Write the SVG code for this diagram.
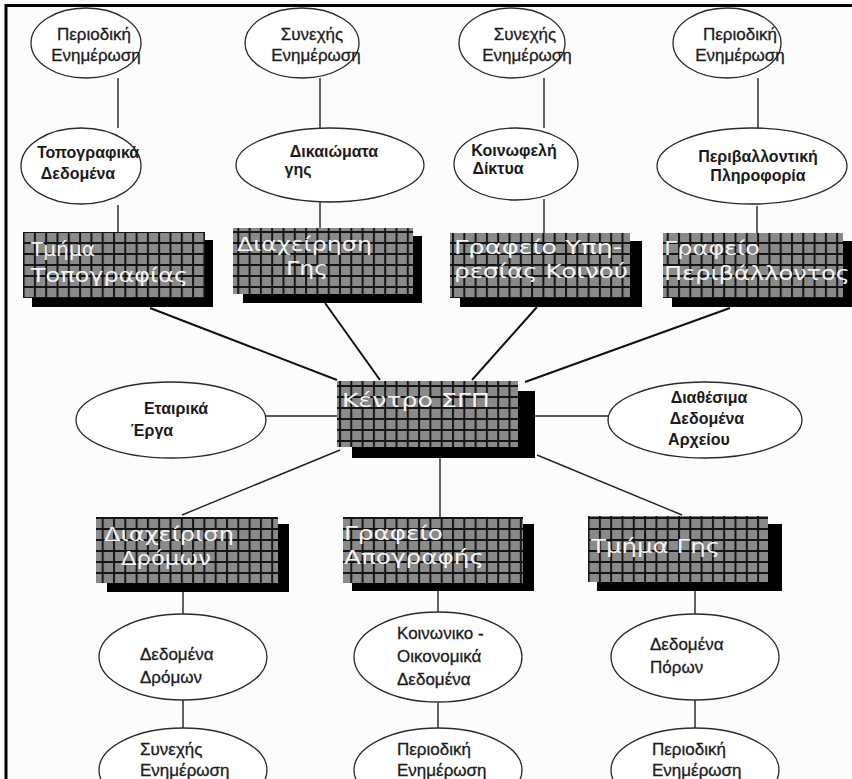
<svg xmlns="http://www.w3.org/2000/svg" width="852" height="779" viewBox="0 0 852 779">
<style>
.bg{fill:#fcfcfc}
.frame{stroke:#000;stroke-width:3;fill:none}
.el{fill:#fff;stroke:#2a2a2a;stroke-width:1.3}
.ln{stroke:#222;stroke-width:1.4;fill:none}
.lnb{stroke:#111;stroke-width:2;fill:none}
.sh{fill:#000}
.bx{fill:url(#grid)}
.t{font-family:"Liberation Sans",Arial,sans-serif;font-size:17px;fill:#1a1a1a;stroke:#1a1a1a;stroke-width:0.3;text-anchor:middle}
.tb{font-family:"Liberation Sans",Arial,sans-serif;font-size:16px;font-weight:bold;fill:#1a1a1a;text-anchor:middle}
.tl{font-family:"Liberation Sans",Arial,sans-serif;font-size:17px;fill:#1a1a1a;stroke:#1a1a1a;stroke-width:0.3}
.w{font-family:"DejaVu Sans","Liberation Sans",sans-serif;font-size:19px;fill:#f4f4f4}
</style>
<defs>
<pattern id="grid" x="0" y="0" width="11.3" height="11" patternUnits="userSpaceOnUse">
<rect width="11.3" height="11" fill="#8a8a8a"/>
<path d="M0 1H11.3M1 0V11" stroke="#151515" stroke-width="2"/>
</pattern>
</defs>
<rect class="bg" x="0" y="0" width="852" height="779"/>
<path class="frame" d="M6 779V5.5H852"/>

<g id="connectors">
<path class="ln" d="M118 78V128M118 205V232"/>
<path class="ln" d="M320 78V128M320 202V228"/>
<path class="ln" d="M544 78V128M544 199V233"/>
<path class="ln" d="M758 78V128M757 206V233"/>
<path class="lnb" d="M150 308L337 380"/>
<path class="lnb" d="M325 303L380 380"/>
<path class="lnb" d="M537 307L472 380"/>
<path class="lnb" d="M730 308L525 382"/>
<path class="ln" d="M266 416H337"/>
<path class="ln" d="M535 416H608"/>
<path class="ln" d="M340 450L182 515"/>
<path class="ln" d="M440 458V517"/>
<path class="ln" d="M537 455L682 515"/>
<path class="ln" d="M183 592V614M183 700V728"/>
<path class="ln" d="M438 591V612M438 703V728"/>
<path class="ln" d="M695 591V614M695 700V728"/>
</g>

<g id="n-per1"><ellipse class="el" cx="86" cy="43" rx="55" ry="35"/><text class="t" x="94" y="40">Περιοδική</text><text class="t" x="96" y="61">Ενημέρωση</text></g>
<g id="n-syn1"><ellipse class="el" cx="302" cy="43" rx="57" ry="35"/><text class="t" x="312" y="40">Συνεχής</text><text class="t" x="316" y="61">Ενημέρωση</text></g>
<g id="n-syn2"><ellipse class="el" cx="512" cy="43" rx="53" ry="35"/><text class="t" x="525" y="40">Συνεχής</text><text class="t" x="527" y="61">Ενημέρωση</text></g>
<g id="n-per2"><ellipse class="el" cx="727" cy="43" rx="54" ry="35"/><text class="t" x="740" y="40">Περιοδική</text><text class="t" x="740" y="61">Ενημέρωση</text></g>

<g id="n-topo"><ellipse class="el" cx="81" cy="166" rx="60" ry="38"/><text class="tb" x="88" y="158">Τοπογραφικά</text><text class="tb" x="78" y="179">Δεδομένα</text></g>
<g id="n-dik"><ellipse class="el" cx="330" cy="165" rx="94" ry="37"/><text class="tb" x="334" y="157">Δικαιώματα</text><text class="tb" x="298" y="175">γης</text></g>
<g id="n-koin"><ellipse class="el" cx="516" cy="164" rx="62" ry="36"/><text class="tb" x="514" y="156">Κοινωφελή</text><text class="tb" x="498" y="174">Δίκτυα</text></g>
<g id="n-periv"><ellipse class="el" cx="752" cy="166" rx="95" ry="38"/><text class="tb" x="758" y="162">Περιβαλλοντική</text><text class="tb" x="758" y="181">Πληροφορία</text></g>

<g id="b-topo"><rect class="sh" x="32" y="240" width="181" height="67"/><rect class="bx" x="23" y="232" width="182" height="66"/><text class="w" x="31" y="256" textLength="64" lengthAdjust="spacingAndGlyphs">Τμήμα</text><text class="w" x="31" y="282" textLength="157" lengthAdjust="spacingAndGlyphs">Τοπογραφίας</text></g>
<g id="b-ges"><rect class="sh" x="243" y="236" width="179" height="67"/><rect class="bx" x="233" y="228" width="180" height="66"/><text class="w" x="237" y="251" textLength="135" lengthAdjust="spacingAndGlyphs">Διαχείρηση</text><text class="w" x="286" y="275" textLength="42" lengthAdjust="spacingAndGlyphs">Γης</text></g>
<g id="b-yp"><rect class="sh" x="460" y="241" width="182" height="66"/><rect class="bx" x="450" y="233" width="180" height="65"/><text class="w" x="454" y="254" textLength="168" lengthAdjust="spacingAndGlyphs">Γραφείο Υπη-</text><text class="w" x="454" y="278" textLength="174" lengthAdjust="spacingAndGlyphs">ρεσίας Κοινού</text></g>
<g id="b-perib"><rect class="sh" x="672" y="241" width="180" height="66"/><rect class="bx" x="663" y="233" width="180" height="65"/><text class="w" x="664" y="255" textLength="96" lengthAdjust="spacingAndGlyphs">Γραφείο</text><text class="w" x="664" y="280" textLength="186" lengthAdjust="spacingAndGlyphs">Περιβάλλοντος</text></g>

<g id="b-kentro"><rect class="sh" x="352" y="391" width="183" height="67"/><rect class="bx" x="337" y="381" width="181" height="66"/><text class="w" x="342" y="407" textLength="148" lengthAdjust="spacingAndGlyphs">Κέντρο ΣΓΠ</text></g>

<g id="n-etair"><ellipse class="el" cx="171" cy="420" rx="95" ry="38"/><text class="tb" x="176" y="414">Εταιρικά</text><text class="tb" x="152" y="436">Έργα</text></g>
<g id="n-diath"><ellipse class="el" cx="705" cy="420" rx="97" ry="38"/><text class="tb" x="709" y="403">Διαθέσιμα</text><text class="tb" x="707" y="424">Δεδομένα</text><text class="tb" x="699" y="445">Αρχείου</text></g>

<g id="b-drom"><rect class="sh" x="107" y="524" width="182" height="68"/><rect class="bx" x="96" y="517" width="182" height="66"/><text class="w" x="104" y="541" textLength="130" lengthAdjust="spacingAndGlyphs">Διαχείριση</text><text class="w" x="121" y="565" textLength="90" lengthAdjust="spacingAndGlyphs">Δρόμων</text></g>
<g id="b-apogr"><rect class="sh" x="352" y="524" width="182" height="67"/><rect class="bx" x="343" y="517" width="180" height="66"/><text class="w" x="344" y="540" textLength="99" lengthAdjust="spacingAndGlyphs">Γραφείο</text><text class="w" x="344" y="564" textLength="140" lengthAdjust="spacingAndGlyphs">Απογραφής</text></g>
<g id="b-tmges"><rect class="sh" x="597" y="524" width="185" height="67"/><rect class="bx" x="588" y="516" width="180" height="66"/><text class="w" x="591" y="553" textLength="129" lengthAdjust="spacingAndGlyphs">Τμήμα Γης</text></g>

<g id="n-dedrom"><ellipse class="el" cx="183" cy="657" rx="84" ry="43"/><text class="tl" x="140" y="660">Δεδομένα</text><text class="tl" x="140" y="683">Δρόμων</text></g>
<g id="n-koinoik"><ellipse class="el" cx="438" cy="657" rx="84" ry="45"/><text class="tl" x="397" y="639">Κοινωνικο -</text><text class="tl" x="397" y="662">Οικονομικά</text><text class="tl" x="397" y="685">Δεδομένα</text></g>
<g id="n-depor"><ellipse class="el" cx="695" cy="657" rx="84" ry="43"/><text class="tl" x="650" y="650">Δεδομένα</text><text class="tl" x="650" y="673">Πόρων</text></g>

<g id="n-syn3"><ellipse class="el" cx="183" cy="770" rx="84" ry="42"/><text class="tl" x="140" y="755">Συνεχής</text><text class="tl" x="140" y="776">Ενημέρωση</text></g>
<g id="n-per3"><ellipse class="el" cx="438" cy="770" rx="84" ry="42"/><text class="tl" x="397" y="755">Περιοδική</text><text class="tl" x="397" y="776">Ενημέρωση</text></g>
<g id="n-per4"><ellipse class="el" cx="695" cy="770" rx="84" ry="42"/><text class="tl" x="652" y="755">Περιοδική</text><text class="tl" x="652" y="776">Ενημέρωση</text></g>
</svg>
